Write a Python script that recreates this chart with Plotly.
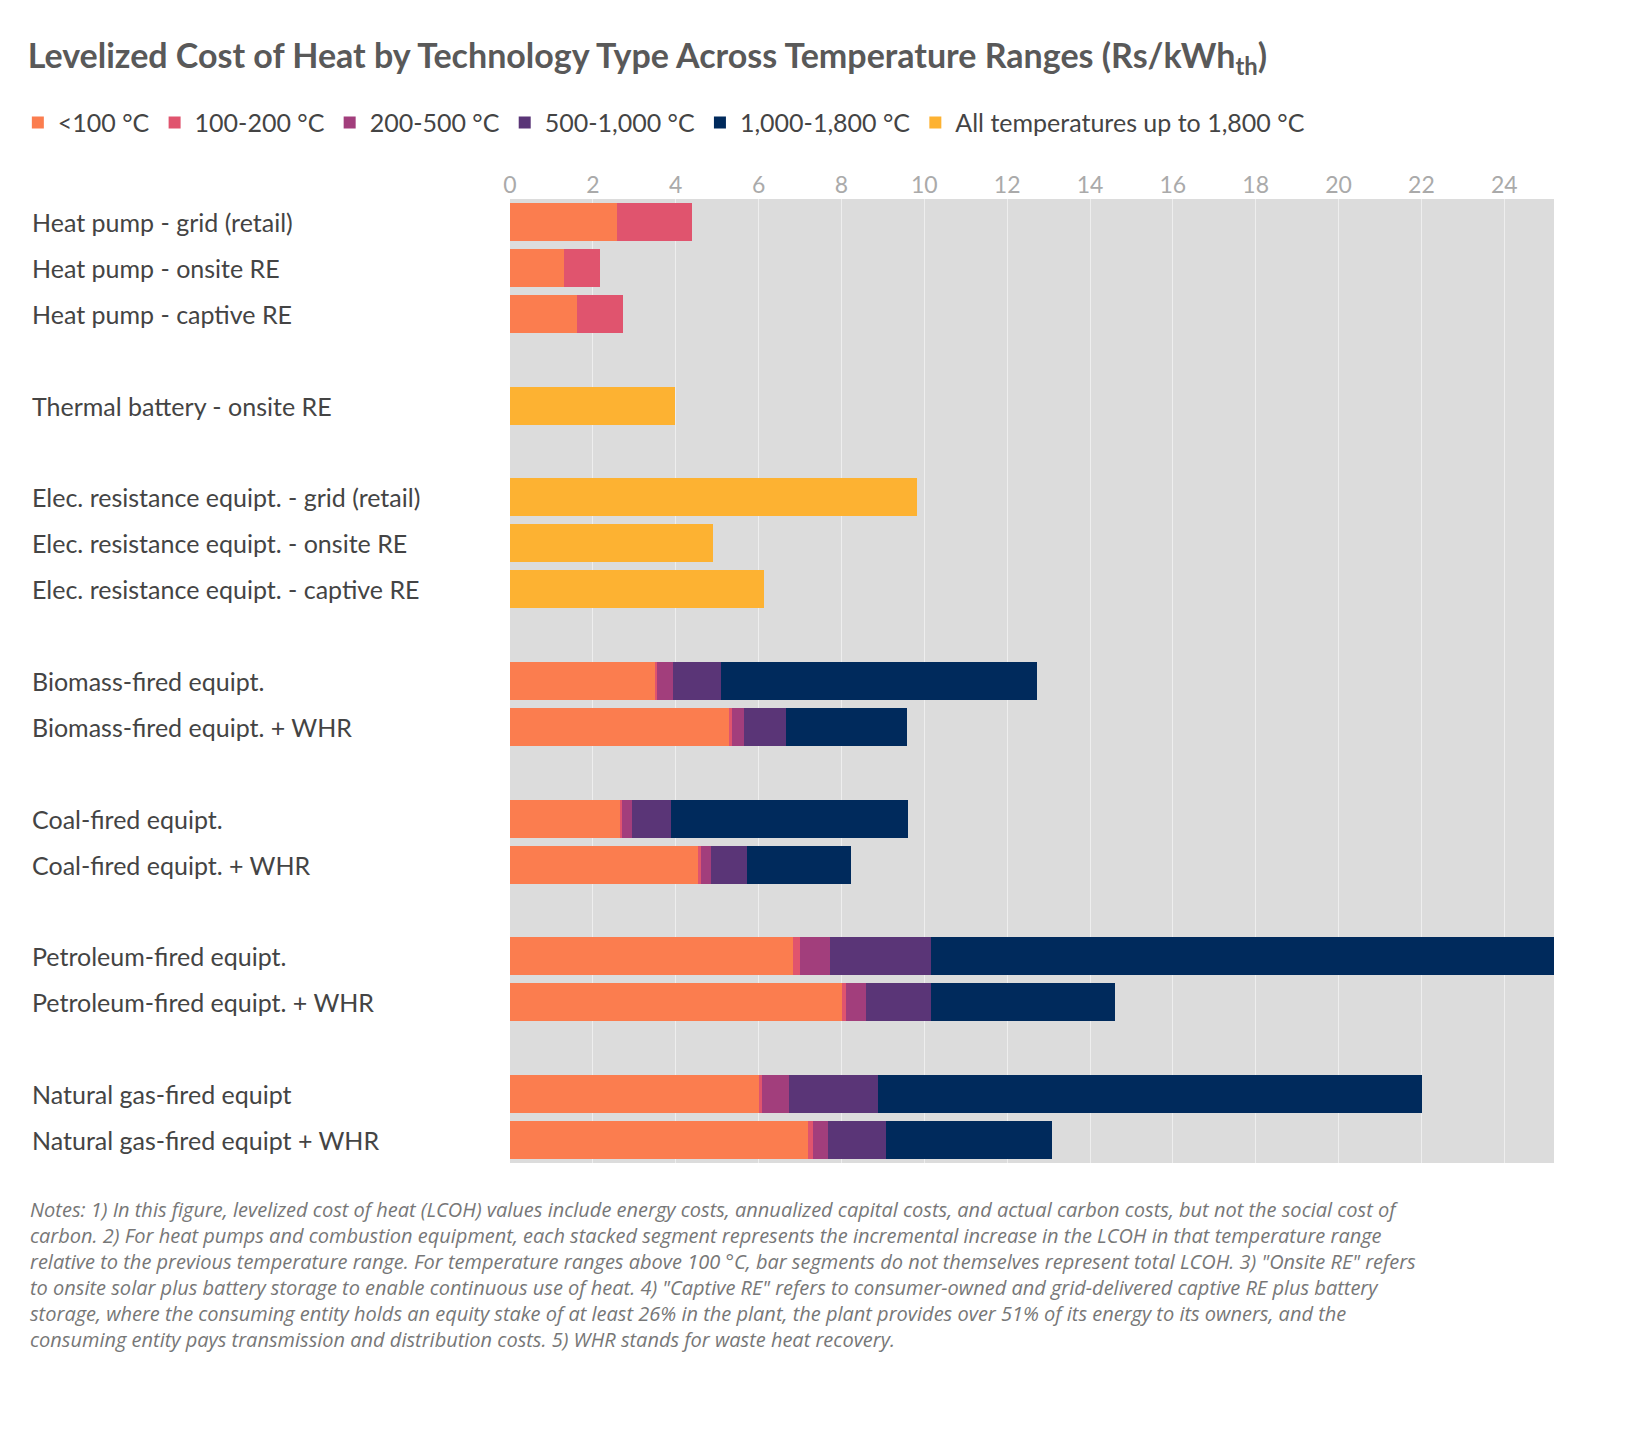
import plotly.graph_objects as go

technologies = ["Heat pump - grid (retail)", "Heat pump - onsite RE", "Heat pump - captive RE",
                "Thermal battery - onsite RE",
                "Elec. resistance equipt. - grid (retail)", "Elec. resistance equipt. - onsite RE",
                "Elec. resistance equipt. - captive RE",
                "Biomass-fired equipt.", "Biomass-fired equipt. + WHR",
                "Coal-fired equipt.", "Coal-fired equipt. + WHR",
                "Petroleum-fired equipt.", "Petroleum-fired equipt. + WHR",
                "Natural gas-fired equipt", "Natural gas-fired equipt + WHR"]
row_pos = [0, 1, 2, 4, 6, 7, 8, 10, 11, 13, 14, 16, 17, 19, 20]

series_names = ["<100 °C", "100-200 °C", "200-500 °C", "500-1,000 °C", "1,000-1,800 °C",
                "All temperatures up to 1,800 °C"]
lt100 =    [2.58, 1.30, 1.61, 0, 0, 0, 0, 3.49, 5.28, 2.65, 4.53, 6.82, 8.02, 6.02, 7.20]
t100_200 = [1.81, 0.87, 1.11, 0, 0, 0, 0, 0.05, 0.07, 0.05, 0.07, 0.19, 0.10, 0.07, 0.12]
t200_500 = [0, 0, 0, 0, 0, 0, 0, 0.40, 0.31, 0.25, 0.24, 0.72, 0.48, 0.65, 0.36]
t500_1000 = [0, 0, 0, 0, 0, 0, 0, 1.16, 1.01, 0.94, 0.87, 2.43, 1.57, 2.14, 1.40]
t1000_1800 = [0, 0, 0, 0, 0, 0, 0, 7.61, 2.92, 5.71, 2.53, 16.0, 4.43, 13.13, 4.00]
all_temps = [0, 0, 0, 3.98, 9.83, 4.89, 6.12, 0, 0, 0, 0, 0, 0, 0, 0]
values = [lt100, t100_200, t200_500, t500_1000, t1000_1800, all_temps]
colors = ["#FB7D4F", "#E0546E", "#A23E7C", "#5A3577", "#002A5C", "#FDB232"]

x_ticks = list(range(0, 25, 2))

notes = ("Notes: 1) In this figure, levelized cost of heat (LCOH) values include energy costs, annualized capital costs, and actual carbon costs, but not the social cost of<br>"
         "carbon. 2) For heat pumps and combustion equipment, each stacked segment represents the incremental increase in the LCOH in that temperature range<br>"
         "relative to the previous temperature range. For temperature ranges above 100 °C, bar segments do not themselves represent total LCOH. 3) \"Onsite RE\" refers<br>"
         "to onsite solar plus battery storage to enable continuous use of heat. 4) \"Captive RE\" refers to consumer-owned and grid-delivered captive RE plus battery<br>"
         "storage, where the consuming entity holds an equity stake of at least 26% in the plant, the plant provides over 51% of its energy to its owners, and the<br>"
         "consuming entity pays transmission and distribution costs. 5) WHR stands for waste heat recovery.")

fig = go.Figure()
for name, vals, col in zip(series_names, values, colors):
    fig.add_trace(go.Bar(y=row_pos, x=vals, name=name, orientation="h",
                         marker=dict(color=col, line=dict(width=0)), width=0.83))

for t, p in zip(technologies, row_pos):
    fig.add_annotation(x=-0.460, xref="paper", y=p, yref="y", text=t, showarrow=False,
                       xanchor="left", font=dict(size=25, color="#444"))

fig.add_annotation(x=-0.462, xref="paper", y=-0.032, yref="paper", yanchor="top", xanchor="left",
                   align="left", showarrow=False, text="<i>" + notes + "</i>",
                   font=dict(size=20, color="#777", family="Open Sans"))

fig.update_layout(
    width=1640, height=1446, barmode="stack", bargap=0,
    plot_bgcolor="#DCDCDC", paper_bgcolor="white",
    font=dict(family="Lato, Open Sans", color="#444"),
    margin=dict(l=501, r=94, t=191, b=291),
    title=dict(text="<b>Levelized Cost of Heat by Technology Type Across Temperature Ranges (Rs/kWh<sub>th</sub>)</b>",
               x=0.012, xanchor="left", y=0.967, yanchor="middle", font=dict(size=34, color="#595959")),
    legend=dict(orientation="h", x=-0.47, xanchor="left", y=1.079, yanchor="middle",
                font=dict(size=25, color="#444"), itemwidth=30, traceorder="normal"),
    xaxis=dict(side="top", range=[0, 25.2], tickvals=x_ticks, showgrid=True, gridcolor="#EEEEEE",
               gridwidth=1, tickfont=dict(size=23, color="#AAAAAA"), zeroline=False, fixedrange=True),
    yaxis=dict(range=[20.5, -0.5], showticklabels=False, showgrid=False, zeroline=False),
)
fig.write_html("out.html")
